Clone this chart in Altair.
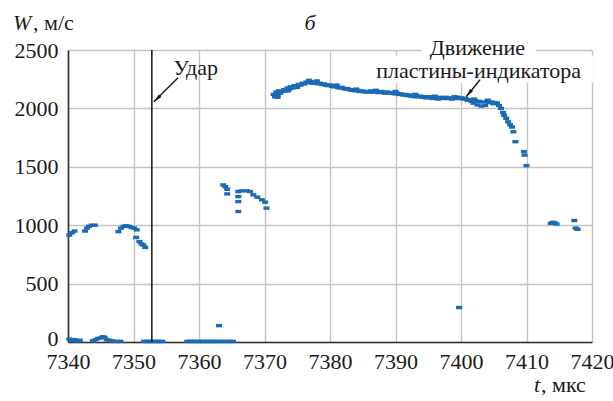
import altair as alt
import pandas as pd

# Measured velocity of the indicator plate, W (m/s) vs time t (µs)
# Near-zero readings before impact
t_low = [7340.2, 7340.6, 7341.0, 7341.4, 7341.8,
         7343.8, 7344.2, 7344.6, 7345.0, 7345.3, 7345.6, 7345.9, 7346.3, 7346.8, 7347.5, 7348.0,
         7351.6, 7352.0, 7352.4, 7352.8, 7353.2, 7353.6, 7354.0, 7354.4,
         7358.2, 7358.6, 7359.0, 7359.4, 7359.8, 7360.2, 7360.6, 7361.0, 7361.4, 7361.8,
         7362.2, 7362.6, 7363.0, 7363.4, 7363.8, 7364.4, 7364.8, 7365.2,
         7363.05, 7399.7]
w_low = [25, 15, 20, 10, 15,
         10, 20, 30, 35, 45, 40, 20, 15, 10, 5, 5,
         5, 5, 5, 5, 5, 5, 5, 5,
         5, 5, 5, 5, 5, 5, 5, 5, 5, 5,
         5, 5, 5, 5, 5, 5, 5, 5,
         140, 295]

# Scattered readings around 1000 m/s
t_mid = [7340.2, 7340.6, 7341.0,
         7342.6, 7342.9, 7343.2, 7343.6, 7344.1,
         7347.7, 7348.1, 7348.5, 7348.9, 7349.3, 7349.7, 7350.1, 7350.5,
         7350.4, 7350.9, 7351.2, 7351.5, 7351.8,
         7413.7, 7414.0, 7414.3, 7414.6, 7417.3, 7417.5, 7417.8]
w_mid = [915, 935, 950,
         950, 975, 990, 1000, 1000,
         945, 975, 990, 995, 990, 980, 975, 960,
         895, 860, 840, 830, 810,
         1015, 1025, 1020, 1010, 1040, 975, 965]

# Readings around 1100-1350 m/s
t_upper = [7363.7, 7364.0, 7364.3, 7364.3,
           7366.0, 7366.5, 7367.3, 7367.8,
           7366.0, 7366.0, 7366.0,
           7368.3, 7368.9, 7369.6, 7370.1, 7370.3]
w_upper = [1345, 1330, 1308, 1268,
           1288, 1294, 1294, 1288,
           1245, 1202, 1117,
           1260, 1240, 1217, 1197, 1146]

# Plate motion
t_plate = [7371.4, 7371.6, 7371.8, 7372.0, 7372.2, 7372.4, 7372.7, 7373.0, 7373.2, 7373.5,
           7373.8, 7374.0, 7374.3, 7374.6, 7374.9, 7375.2, 7375.5, 7375.8, 7376.1, 7376.4,
           7376.7, 7377.0, 7377.3, 7377.6, 7377.9, 7378.2, 7378.5, 7378.8, 7379.1, 7379.4,
           7379.7, 7380.0, 7380.3, 7380.6, 7380.9, 7381.2, 7381.5, 7381.8, 7382.1, 7382.4,
           7382.7, 7383.0, 7383.3, 7383.6, 7383.9, 7384.2, 7384.5, 7384.8, 7385.1, 7385.4,
           7385.7, 7386.0, 7386.3, 7386.6, 7386.9, 7387.2, 7387.5, 7387.8, 7388.1, 7388.4,
           7388.7, 7389.0, 7389.3, 7389.6, 7389.9, 7390.2, 7390.5, 7390.8, 7391.1, 7391.4,
           7391.7, 7392.0, 7392.3, 7392.6, 7392.9, 7393.2, 7393.5, 7393.8, 7394.1, 7394.4,
           7394.7, 7395.0, 7395.3, 7395.6, 7395.9, 7396.2, 7396.5, 7396.8, 7397.1, 7397.4,
           7397.7, 7398.0, 7398.3, 7398.6, 7398.9, 7399.2, 7399.5, 7399.8, 7400.1, 7400.4,
           7400.7, 7401.0, 7401.3, 7401.6, 7401.9, 7402.2, 7402.5, 7402.8, 7403.1, 7403.4,
           7403.7, 7404.0, 7404.3, 7404.6, 7404.9, 7405.2, 7405.5, 7405.8, 7406.1, 7406.4,
           7406.6, 7406.9, 7407.2, 7407.5, 7407.8, 7408.0, 7408.3, 7409.6, 7409.7, 7410.0,
           7372.0, 7373.6, 7375.0, 7376.8, 7378.0, 7381.0, 7384.0, 7387.0, 7390.0, 7393.0,
           7396.0, 7399.0, 7402.0, 7404.1]
w_plate = [2120, 2100, 2140, 2115, 2150, 2130, 2145, 2160, 2150, 2175,
           2165, 2185, 2175, 2195, 2190, 2205, 2200, 2215, 2210, 2225,
           2220, 2230, 2215, 2225, 2220, 2210, 2215, 2205, 2210, 2200,
           2195, 2200, 2190, 2185, 2190, 2180, 2175, 2180, 2170, 2165,
           2170, 2160, 2155, 2160, 2150, 2155, 2145, 2150, 2145, 2140,
           2145, 2140, 2150, 2140, 2145, 2140, 2135, 2145, 2140, 2130,
           2140, 2135, 2130, 2135, 2125, 2130, 2120, 2125, 2115, 2120,
           2110, 2115, 2105, 2110, 2100, 2110, 2100, 2105, 2095, 2100,
           2090, 2100, 2095, 2085, 2095, 2090, 2080, 2095, 2090, 2085,
           2095, 2085, 2090, 2080, 2090, 2085, 2095, 2085, 2090, 2080,
           2085, 2070, 2075, 2060, 2045, 2065, 2030, 2060, 2020, 2055,
           2025, 2060, 2050, 2055, 2040, 2050, 2045, 2025, 2000, 1965,
           1940, 1915, 1885, 1860, 1840, 1800, 1715, 1630, 1600, 1510,
           2095, 2150, 2180, 2240, 2235, 2200, 2165, 2155, 2145, 2120,
           2105, 2100, 2080, 2070]

x_ticks = [7340, 7350, 7360, 7370, 7380, 7390, 7400, 7410, 7420]
y_ticks = [0, 500, 1000, 1500, 2000, 2500]
impact_t = 7352.8

BLUE = "#1b6ab5"
FONT = "Liberation Serif"
FS = 22

pts = pd.DataFrame({
    "t": t_low + t_mid + t_upper + t_plate,
    "W": w_low + w_mid + w_upper + w_plate,
})

xs = alt.Scale(domain=[7340, 7420], nice=False, zero=False)
ys = alt.Scale(domain=[0, 2500], nice=False)

common_axis = dict(format="d", title=None, grid=True, ticks=False,
                   domainColor="#333333", domainWidth=1.6,
                   labelFont=FONT, labelFontSize=FS, labelColor="#1a1a1a",
                   labelFlush=False, labelOverlap=False,
                   gridColor="#c4c4c4", gridWidth=1.4)
x_axis = alt.Axis(values=x_ticks, labelPadding=9, **common_axis)
# the "0" label is nudged up a little so it clears the first time label
y_axis = alt.Axis(values=y_ticks, labelPadding=10,
                  labelOffset={"condition": {"test": "datum.value === 0", "value": -4}, "value": 0},
                  **common_axis)

points = alt.Chart(pts).mark_tick(orient="horizontal", size=6, thickness=3.4, color=BLUE,
                                  opacity=1).encode(
    x=alt.X("t:Q", scale=xs, axis=x_axis),
    y=alt.Y("W:Q", scale=ys, axis=y_axis),
)

# White backing behind the upper-right caption (interrupts grid lines)
boxes = pd.DataFrame({"t1": [7394.0, 7385.6], "t2": [7411.4, 7420.2],
                      "w1": [2451, 2220], "w2": [2605, 2451]})
backing = alt.Chart(boxes).mark_rect(color="white").encode(
    x=alt.X("t1:Q", scale=xs), x2="t2:Q",
    y=alt.Y("w1:Q", scale=ys), y2="w2:Q",
)

impact = alt.Chart(pd.DataFrame({"t": [impact_t]})).mark_rule(
    color="#222222", strokeWidth=1.6).encode(x=alt.X("t:Q", scale=xs))

arrows = pd.DataFrame({"t": [7356.8, 7353.1, 7402.9, 7400.8],
                       "W": [2262, 2057, 2245, 2100],
                       "g": ["a", "a", "b", "b"]})
arrow_lines = alt.Chart(arrows).mark_line(color="#111111", strokeWidth=1.3).encode(
    x=alt.X("t:Q", scale=xs), y=alt.Y("W:Q", scale=ys), detail="g:N")

heads = pd.DataFrame({"t": [7353.6, 7401.2], "W": [2082, 2128], "ang": [225, 219]})
arrow_heads = alt.Chart(heads).mark_point(
    shape="M0,-1L0.42,1L-0.42,1Z", filled=True, size=75, color="#111111", opacity=1).encode(
    x=alt.X("t:Q", scale=xs), y=alt.Y("W:Q", scale=ys), angle=alt.Angle("ang:Q", scale=None))

labels = pd.DataFrame({"t": [7359.5, 7402.5, 7402.7],
                       "W": [2348, 2520, 2318],
                       "txt": ["Удар", "Движение", "пластины-индикатора"]})
label_text = alt.Chart(labels).mark_text(font=FONT, fontSize=FS, color="#1a1a1a",
                                         baseline="middle", align="center").encode(
    x=alt.X("t:Q", scale=xs), y=alt.Y("W:Q", scale=ys), text="txt:N")

def px_text(txt, x, y, italic=False, align="left"):
    return alt.Chart(pd.DataFrame({"s": [txt]})).mark_text(
        font=FONT, fontSize=FS, color="#1a1a1a", align=align, baseline="alphabetic",
        fontStyle="italic" if italic else "normal").encode(
        x=alt.value(x), y=alt.value(y), text="s:N")

titles = [
    px_text("W", -55, -20, italic=True),
    px_text(", м/с", -35, -20),
    px_text("б", 242, -20, italic=True, align="center"),
    px_text("t", 466, 342, italic=True),
    px_text(", мкс", 473, 342),
]

chart = alt.layer(backing, points, impact, arrow_lines, arrow_heads, label_text, *titles).properties(
    width=524, height=292,
    background="white",
    autosize=alt.AutoSizeParams(type="none"),
    padding={"left": 68, "top": 50, "right": 21, "bottom": 59},
).configure_view(stroke=None)

chart.save("out.html", embed_options={"renderer": "svg", "actions": False})
